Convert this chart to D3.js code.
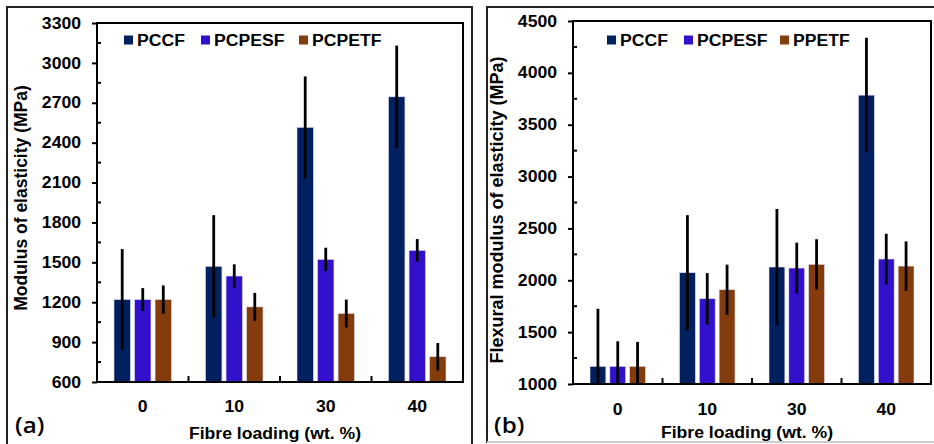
<!DOCTYPE html>
<html>
<head>
<meta charset="utf-8">
<script src="https://cdn.jsdelivr.net/npm/d3@7"></script>
<style>
  body { margin: 0; background: #fff; }
  svg text { font-family: "Liberation Sans", Arial, sans-serif; font-weight: bold; fill: #000; }
</style>
</head>
<body>
<div id="chart"></div>
<script>
// fibre loading groups
const fibre = ["0", "10", "30", "40"];

// (a) modulus of elasticity, MPa
const seriesA = ["PCCF", "PCPESF", "PCPETF"];
const modPCCF = [1220, 1470, 2515, 2745];
const modPCCFerr = [380, 385, 383, 385];
const modPCPESF = [1220, 1397, 1522, 1590];
const modPCPESFerr = [86, 88, 88, 85];
const modPCPETF = [1220, 1165, 1115, 790];
const modPCPETFerr = [106, 105, 105, 103];
const ticksA = [600, 900, 1200, 1500, 1800, 2100, 2400, 2700, 3000, 3300];

// (b) flexural modulus of elasticity, MPa
const seriesB = ["PCCF", "PCPESF", "PPETF"];
const flexPCCF = [1170, 2073, 2128, 3785];
const flexPCCFerr = [555, 555, 560, 553];
const flexPCPESF = [1170, 1822, 2118, 2205];
const flexPCPESFerr = [242, 247, 245, 244];
const flexPPETF = [1170, 1909, 2154, 2137];
const flexPPETFerr = [236, 242, 242, 238];
const ticksB = [1000, 1500, 2000, 2500, 3000, 3500, 4000, 4500];

const colors = ["#002060", "#3311CC", "#843C0C"];
const stretch = 1.1;   // the source image is a bit wider than tall

const svg = d3.select("#chart").append("svg")
    .attr("width", 934)
    .attr("height", 444);

// outer panel frames
svg.append("rect").attr("x", 7).attr("y", 7).attr("width", 465).attr("height", 450)
    .attr("fill", "none").attr("stroke", "#222").attr("stroke-width", 2);
svg.append("rect").attr("x", 487).attr("y", 7).attr("width", 460).attr("height", 435)
    .attr("fill", "none").attr("stroke", "#222").attr("stroke-width", 2);
svg.append("line").attr("x1", 487).attr("x2", 934).attr("y1", 442).attr("y2", 442)
    .attr("stroke", "#ccc").attr("stroke-width", 2);

function widen(sel) {
    sel.each(function () {
        const w = this.getComputedTextLength();
        d3.select(this).attr("textLength", w * stretch).attr("lengthAdjust", "spacingAndGlyphs");
    });
}

function drawPanel(p) {
    const g = svg.append("g");
    const rows = fibre.map((f, i) => ({
        fibre: f,
        vals: p.series.map((s, j) => ({ key: s, j, v: p.values[j][i], e: p.errors[j][i] }))
    }));

    const x0 = d3.scaleBand().domain(fibre).range([p.left, p.right]).padding(0);
    const x1 = d3.scaleBand().domain(p.series)
        .range([p.inset, x0.bandwidth() - p.inset]).paddingInner(0.2);
    const y = d3.scaleLinear().domain(p.domain).range([p.bottom, p.top]);

    // bars
    const grp = g.selectAll(".grp").data(rows).enter().append("g")
        .attr("transform", d => `translate(${x0(d.fibre)},0)`);
    grp.selectAll("rect").data(d => d.vals).enter().append("rect")
        .attr("x", d => x1(d.key))
        .attr("y", d => y(d.v))
        .attr("width", x1.bandwidth())
        .attr("height", d => y(p.domain[0]) - y(d.v))
        .attr("fill", d => colors[d.j])
        .attr("stroke", "#dde").attr("stroke-width", 0.6);

    // error bars (no caps)
    grp.selectAll("line").data(d => d.vals).enter().append("line")
        .attr("x1", d => x1(d.key) + x1.bandwidth() / 2)
        .attr("x2", d => x1(d.key) + x1.bandwidth() / 2)
        .attr("y1", d => Math.min(y(p.domain[0]), y(d.v - d.e)))
        .attr("y2", d => y(d.v + d.e))
        .attr("stroke", "#000").attr("stroke-width", 2.8);

    // plot frame
    g.append("rect")
        .attr("x", p.left).attr("y", p.top)
        .attr("width", p.right - p.left).attr("height", p.bottom - p.top)
        .attr("fill", "none").attr("stroke", "#000").attr("stroke-width", 2);

    // y axis: major ticks outside, minor inside
    const yAxis = d3.axisLeft(y).tickValues(p.ticks).tickSize(5).tickPadding(11)
        .tickFormat(d3.format("d"));
    const ya = g.append("g").attr("transform", `translate(${p.left},0)`).call(yAxis);
    ya.select(".domain").remove();
    ya.attr("font-family", null);
    ya.selectAll(".tick line").attr("stroke", "#000").attr("stroke-width", 2);
    ya.selectAll(".tick text").style("font-size", "16px").style("font-weight", "bold")
        .call(widen);

    const minor = p.ticks.slice(1).map((t, i) => (t + p.ticks[i]) / 2);
    g.selectAll(".minor").data(minor).enter().append("line")
        .attr("x1", p.left).attr("x2", p.left + 4)
        .attr("y1", d => y(d)).attr("y2", d => y(d))
        .attr("stroke", "#000").attr("stroke-width", 2);

    // x axis: boundary ticks inside
    const bounds = fibre.slice(1).map(f => x0(f));
    g.selectAll(".xtick").data(bounds).enter().append("line")
        .attr("x1", d => d).attr("x2", d => d)
        .attr("y1", p.bottom).attr("y2", p.bottom - 6)
        .attr("stroke", "#000").attr("stroke-width", 2);

    g.selectAll(".xlab").data(fibre).enter().append("text")
        .attr("x", d => x0(d) + x0.bandwidth() / 2)
        .attr("y", p.bottom + p.xlabGap)
        .attr("text-anchor", "middle")
        .style("font-size", "16px")
        .text(d => d)
        .call(widen);

    // axis titles
    g.append("text")
        .attr("x", (p.left + p.right) / 2 - 5)
        .attr("y", p.xTitleY)
        .attr("text-anchor", "middle")
        .style("font-size", "16px")
        .text("Fibre loading (wt. %)")
        .call(widen);
    g.append("text")
        .attr("transform", `translate(${p.yTitleX},${p.yTitleY}) rotate(-90)`)
        .attr("text-anchor", "middle")
        .style("font-size", p.yTitleSize)
        .text(p.yTitle);

    // panel letter
    g.append("text")
        .attr("x", p.letterX).attr("y", 433)
        .style("font-family", "'Open Sans', 'Noto Sans', sans-serif")
        .style("font-weight", "600")
        .style("font-size", "22px")
        .text(p.letter)
        .call(widen);

    // legend
    const leg = g.selectAll(".leg").data(p.series).enter().append("g")
        .attr("transform", (d, i) => `translate(${p.legendX[i]},${p.legendY})`);
    leg.append("rect").attr("x", 0).attr("y", -10).attr("width", 9).attr("height", 9)
        .attr("fill", (d, i) => colors[i]);
    leg.append("text").attr("x", 13).attr("y", 0)
        .style("font-size", "16px")
        .text(d => d)
        .call(widen);
}

drawPanel({
    series: seriesA,
    values: [modPCCF, modPCPESF, modPCPETF],
    errors: [modPCCFerr, modPCPESFerr, modPCPETFerr],
    ticks: ticksA, domain: [600, 3300],
    left: 97, right: 463, top: 23, bottom: 382, inset: 17,
    xlabGap: 30, xTitleY: 439,
    yTitle: "Modulus of elasticity (MPa)", yTitleX: 27, yTitleY: 198, yTitleSize: "17.5px",
    letter: "(a)", letterX: 15,
    legendX: [124, 201, 299], legendY: 45.5
});

drawPanel({
    series: seriesB,
    values: [flexPCCF, flexPCPESF, flexPPETF],
    errors: [flexPCCFerr, flexPCPESFerr, flexPPETFerr],
    ticks: ticksB, domain: [1000, 4500],
    left: 573, right: 931, top: 21, bottom: 384, inset: 17,
    xlabGap: 31, xTitleY: 438,
    yTitle: "Flexural modulus of elasticity (MPa)", yTitleX: 503, yTitleY: 210, yTitleSize: "18px",
    letter: "(b)", letterX: 494,
    legendX: [607, 684, 780], legendY: 45.5
});
</script>
</body>
</html>
